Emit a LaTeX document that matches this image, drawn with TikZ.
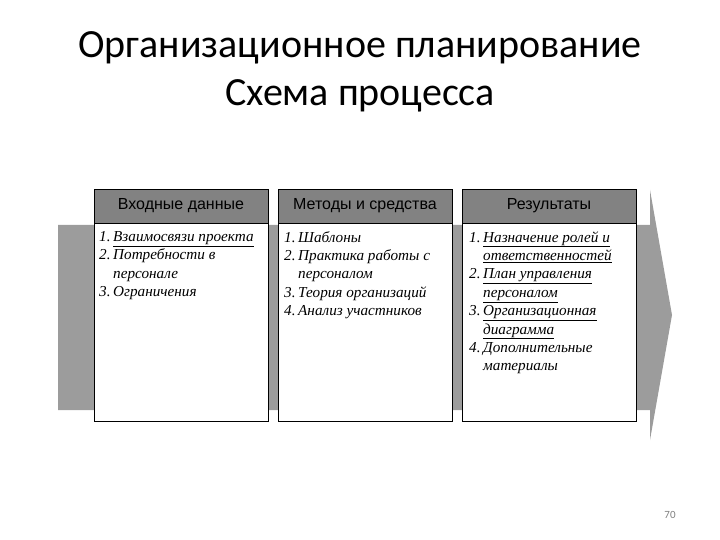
\documentclass[tikz,border=0pt]{standalone}
\usepackage{fontspec}
\setmainfont{Liberation Serif}
\newfontfamily\titlefont{Carlito}
\newfontfamily\headfont{Liberation Sans}
\usepackage{xcolor}
\definecolor{bandgray}{HTML}{9C9C9C}
\definecolor{headgray}{HTML}{828282}
\newcommand{\itm}[1]{\makebox[14pt][l]{#1.}}
\newcommand{\cnt}{\hspace*{14pt}}

\begin{document}
\begin{tikzpicture}[x=1pt,y=-1pt,
	head/.style={draw=black,fill=headgray,minimum width=174pt,minimum height=34pt,inner sep=0pt,
		font=\headfont\fontsize{16}{18}\selectfont},
	body/.style={draw=black,fill=white,minimum width=174pt,minimum height=198pt,inner sep=0pt},
	list/.style={align=left,anchor=north west,inner sep=0pt,
		font=\itshape\fontsize{15.2}{18.4}\selectfont}]
	\useasboundingbox (0,0) rectangle (720,540);
	
	% title
	\node[font=\titlefont\fontsize{40}{48}\selectfont,align=center] (title) at (360,72)
		{Организационное планирование\\Схема процесса};
	
	% grey arrow behind the boxes
	\fill[bandgray] (58,225) -- (650,225) -- (650,190) -- (672,315) -- (650,440)
		-- (650,410) -- (58,410) -- cycle;
	
	% columns
	\node[body] (inbody) at (181,322) {};
	\node[head] (inhead) at (181,206) {Входные данные};
	\node[body] (mbody) at (365,322) {};
	\node[head] (mhead) at (365,206) {Методы и средства};
	\node[body] (outbody) at (549,322) {};
	\node[head] (outhead) at (549,206) {Результаты};
	
	\node[list] (inlist) at (99,231) {\itm{1}\underline{Взаимосвязи проекта}\\
		\itm{2}Потребности в\\ \cnt персонале\\ \itm{3}Ограничения};
	\node[list] (mlist) at (284,231) {\itm{1}Шаблоны\\ \itm{2}Практика работы с\\
		\cnt персоналом\\ \itm{3}Теория организаций\\ \itm{4}Анализ участников};
	\node[list] (outlist) at (469,231) {\itm{1}\underline{Назначение ролей и}\\
		\cnt\underline{ответственностей}\\ \itm{2}\underline{План управления}\\
		\cnt\underline{персоналом}\\ \itm{3}\underline{Организационная}\\
		\cnt\underline{диаграмма}\\ \itm{4}Дополнительные\\ \cnt материалы};
	
	% page number
	\node[font=\titlefont\fontsize{11}{13}\selectfont,text=gray] (page) at (670,515) {70};
\end{tikzpicture}
\end{document}
